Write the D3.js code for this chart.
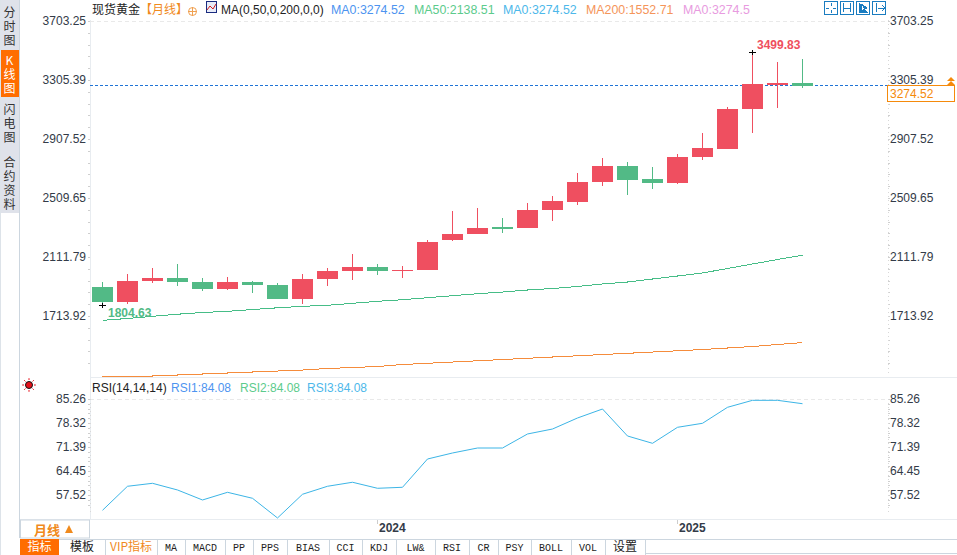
<!DOCTYPE html>
<html><head><meta charset="utf-8">
<style>
html,body{margin:0;padding:0;background:#fff;overflow:hidden}
svg{display:block}
text{font-family:"Liberation Sans",Arial,sans-serif;font-size:12px;font-kerning:none}
.cjk{font-family:"Noto Sans CJK SC",sans-serif}
.mono{font-family:"Liberation Mono",monospace;font-size:10px}
.vert{font-family:"Noto Sans CJK SC",sans-serif;writing-mode:vertical-rl;text-orientation:upright;letter-spacing:2px;font-size:12px}
</style>
<script src="https://cdn.jsdelivr.net/npm/d3@7"></script>
</head><body>
<svg id="c" width="957" height="555"></svg>
<script>
const months=["2023-02","2023-03","2023-04","2023-05","2023-06","2023-07","2023-08","2023-09","2023-10","2023-11","2023-12","2024-01","2024-02","2024-03","2024-04","2024-05","2024-06","2024-07","2024-08","2024-09","2024-10","2024-11","2024-12","2025-01","2025-02","2025-03","2025-04","2025-05","2025-06"];
const opens=[1925.2,1824.7,1965.4,1985.5,1958.7,1911.8,1958.7,1938.6,1844.8,1978.8,2032.4,2059.2,2032.4,2039.1,2240.1,2280.3,2327.2,2320.5,2441.1,2494.7,2628.7,2736.0,2648.8,2622.0,2796.2,2849.9,3117.9,3278.7,3292.1];
const highs=[1958.7,2012.3,2052.5,2079.3,1985.5,1992.2,1965.4,1952.0,2012.3,2052.5,2146.3,2079.3,2065.9,2240.1,2434.4,2454.5,2387.5,2488.0,2534.9,2689.1,2789.6,2762.8,2729.2,2816.4,2957.1,3131.3,3499.83,3432.8,3452.9];
const lows=[1804.63,1811.3,1952.0,1931.9,1898.4,1905.1,1885.0,1844.8,1811.3,1931.9,1972.1,2005.6,1985.5,2039.1,2233.4,2280.3,2287.0,2320.5,2367.4,2474.6,2602.0,2541.6,2581.8,2615.3,2776.2,2849.9,2957.1,3124.6,3258.6];
const closes=[1824.7,1965.4,1985.5,1958.7,1911.8,1958.7,1938.6,1844.8,1978.8,2032.4,2059.2,2032.4,2039.1,2226.7,2280.3,2320.5,2313.8,2441.1,2501.4,2628.7,2736.0,2642.2,2622.0,2796.2,2856.6,3117.9,3285.4,3292.1,3274.52];
const ma50=[1702.1,1714.1,1728.8,1742.9,1754.3,1762.3,1774.4,1785.8,1795.8,1802.6,1816.0,1829.4,1840.1,1853.5,1866.9,1880.3,1891.6,1905.1,1915.2,1928.6,1945.4,1958.7,1978.8,1998.9,2019.1,2049.1,2079.3,2109.4,2138.51];
const ma200=[1323.5,1325.5,1328.8,1335.5,1342.2,1348.9,1355.6,1362.3,1369.0,1379.0,1385.8,1392.5,1405.9,1414.0,1422.6,1430.7,1439.4,1447.4,1456.2,1464.2,1472.9,1480.9,1489.6,1497.7,1506.4,1516.5,1526.5,1539.9,1552.71];
const rsi=[53.10,60.04,60.90,58.97,56.08,58.30,56.57,50.88,57.73,60.04,61.20,59.46,59.75,67.92,69.66,71.10,71.10,75.15,76.59,79.77,82.37,74.57,72.46,77.08,78.24,82.86,84.88,84.88,83.9];
const priceTicks=[3703.25,3305.39,2907.52,2509.65,2111.79,1713.92];
const rsiTicks=[85.26,78.32,71.39,64.45,57.52];
const yearTicks=["2024-01","2025-01"];
const lastPrice=3274.52, topPrice=3499.83, lowPrice=1804.63;
const sideTabs=["分时图","K线图","闪电图","合约资料"];
const bottomTabs=["指标","模板","VIP指标","MA","MACD","PP","PPS","BIAS","CCI","KDJ","LW&","RSI","CR","PSY","BOLL","VOL","设置"];
const legendMain=[["现货黄金","#222"],["【月线】","#f08a1d"],["MA(0,50,0,200,0,0)","#222"],["MA0:3274.52","#4d94f0"],["MA50:2138.51","#5ccb8c"],["MA0:3274.52","#4db8ea"],["MA200:1552.71","#f5955a"],["MA0:3274.5","#e89be0"]];
const legendRsi=[["RSI(14,14,14)","#222"],["RSI1:84.08","#4d94f0"],["RSI2:84.08","#5ccb8c"],["RSI3:84.08","#4db8ea"]];

const RED="#ef4f60",GREEN="#52ba86",LINE="#e8ecf0",TXT="#333b48",BORDER="#ccd6df",ORANGE="#ff6d00";
const svg=d3.select("#c");
const x=d3.scalePoint().domain(months).range([102.5,802.5]);
const y=d3.scaleLinear().domain([lowPrice,topPrice]).range([305,52]);
const yAxisS=d3.scaleLinear().domain([priceTicks[5],priceTicks[0]]).range([316,21]);
const yR=d3.scaleLinear().domain([rsiTicks[4],rsiTicks[0]]).range([495,399]);
const fmt=d3.format(".2f");

const g=svg.append("g");
const hl=(x1,x2,yy,c=LINE,extra)=>{const l=g.append("line").attr("x1",x1).attr("x2",x2).attr("y1",yy).attr("y2",yy).attr("stroke",c).attr("shape-rendering","crispEdges");if(extra)l.attr("stroke-dasharray",extra);return l;};
const vl=(xx,y1,y2,c=LINE,extra)=>{const l=g.append("line").attr("x1",xx).attr("x2",xx).attr("y1",y1).attr("y2",y2).attr("stroke",c).attr("shape-rendering","crispEdges");if(extra)l.attr("stroke-dasharray",extra);return l;};
g.append("rect").attr("x",0).attr("y",0).attr("width",19).attr("height",213).attr("fill","#dfe2ea");
g.append("rect").attr("x",0).attr("y",50).attr("width",19).attr("height",47).attr("fill",ORANGE);
vl(19.5,0,538,BORDER);vl(0.5,0,555,"#dde3e9");
hl(90,957,377.5);hl(20,957,519.5);
vl(90.5,20,377,LINE);vl(90.5,377,519,LINE);

const sideY=[6,54,103,156];
sideTabs.forEach((t,i)=>{
 g.append("text").attr("class","vert").attr("x",9.5).attr("y",sideY[i]).attr("fill",i==1?"#fff":"#333").text(t);
});

hl(90,888,21.5,"#e9e9e9","4 3");
hl(90,888,399.5,"#e9e9e9","4 3");
hl(90,888,Math.floor(y(lastPrice))+.5,"#1f74d6","3 2");

function axis(gen,ticks,scale,xx,anchor){
 const a=svg.append("g").attr("transform",`translate(${xx},0)`).call(gen(scale).tickValues(ticks).tickFormat(fmt).tickSize(0).tickPadding(0));
 a.select(".domain").remove();
 a.selectAll("text").attr("fill",TXT).style("font-size","12px").style("font-family",'"Liberation Sans",sans-serif').attr("text-anchor",anchor);
 return a;
}
axis(d3.axisLeft,priceTicks,yAxisS,86,"end");
axis(d3.axisRight,priceTicks,yAxisS,890,"start");
axis(d3.axisLeft,rsiTicks,yR,86,"end");
axis(d3.axisRight,rsiTicks,yR,890,"start");
function minor(scaleStart,step,count){
 d3.range(count).forEach(i=>{const yy=Math.round(scaleStart+i*step)+.5;
  hl(88,90,yy,"#cfcfcf");hl(888,890,yy,"#cfcfcf");});
}
minor(21,11.8,30);
minor(399,4.8,23);
vl(888.5,20,376,"#d8d8d8","1 3");vl(888.5,399,515,"#d8d8d8","1 3");vl(90.5,399,515,"#d8d8d8","1 3");

const lineP=d3.line().x((d,i)=>x(months[i])).y(d=>y(d));
svg.append("path").datum(ma50).attr("d",lineP).attr("fill","none").attr("stroke","#46bd87").attr("stroke-width",1).attr("shape-rendering","crispEdges");
svg.append("path").datum(ma200).attr("d",lineP).attr("fill","none").attr("stroke","#f58c3c").attr("stroke-width",1).attr("shape-rendering","crispEdges");

const c=svg.append("g").selectAll("g").data(months).join("g");
const col=(d,i)=>closes[i]>=opens[i]?RED:GREEN;
c.append("line").attr("x1",d=>Math.floor(x(d))+.5).attr("x2",d=>Math.floor(x(d))+.5)
 .attr("y1",(d,i)=>Math.round(y(highs[i]))).attr("y2",(d,i)=>Math.round(y(lows[i])))
 .attr("stroke",col).attr("shape-rendering","crispEdges");
c.append("rect").attr("x",d=>Math.floor(x(d))-10).attr("width",21)
 .attr("y",(d,i)=>Math.round(y(Math.max(opens[i],closes[i]))))
 .attr("height",(d,i)=>Math.max(1,Math.round(y(Math.min(opens[i],closes[i])))-Math.round(y(Math.max(opens[i],closes[i])))))
 .attr("fill",col).attr("shape-rendering","crispEdges");

const iHi=highs.indexOf(topPrice), iLo=lows.indexOf(lowPrice);
[[iHi,topPrice],[iLo,lowPrice]].forEach(([i,v])=>{const cx=Math.floor(x(months[i]));const cy=Math.round(y(v))+.5;
 svg.append("path").attr("d",`M${cx-3},${cy}H${cx+4}M${cx+.5},${cy-3}V${cy+2.5}`).attr("stroke","#000").attr("fill","none").attr("shape-rendering","crispEdges");});
svg.append("text").attr("x",x(months[iHi])+4.5).attr("y",y(topPrice)-3).attr("fill",RED).attr("font-weight",700).text(fmt(topPrice));
svg.append("text").attr("x",x(months[iLo])+5.5).attr("y",y(lowPrice)+12).attr("fill",GREEN).attr("font-weight",700).text(fmt(lowPrice));

svg.append("rect").attr("x",887.5).attr("y",85.5).attr("width",67).attr("height",16).attr("fill","#fff").attr("stroke","#f58a0b");
svg.append("text").attr("x",890).attr("y",98).attr("fill","#f58a0b").text(fmt(lastPrice));
svg.append("path").attr("d","M951,77l4,4h-8zM951,81l4,4h-8z").attr("fill","#f58a0b");

const lineR=d3.line().x((d,i)=>x(months[i])).y(d=>yR(d));
svg.append("path").datum(rsi).attr("d",lineR).attr("fill","none").attr("stroke","#3cb5e6").attr("stroke-width",1);

const mainX=[92,140,221,331,414,503,586,683];
legendMain.forEach(([t,cl],i)=>svg.append("text").attr("class",/[\u4e00-\u9fff]/.test(t)?"cjk":null).attr("x",mainX[i]).attr("y",14).attr("fill",cl).style("font-size",i>2?"12.4px":"12px").text(t));
svg.append("circle").attr("cx",192.5).attr("cy",11.5).attr("r",4).attr("fill","none").attr("stroke","#f0a050");
svg.append("path").attr("d","M188,11.5h9M192.5,7v9").attr("stroke","#f0a050").attr("fill","none");
svg.append("rect").attr("x",206.5).attr("y",1.5).attr("width",10).attr("height",11).attr("fill","#e8ecf8").attr("stroke","#1a2c80");
svg.append("path").attr("d","M207,10l3,-4l3,3l3,-5").attr("stroke","#d02020").attr("fill","none");
const rsiX=[92,171,240,307];
legendRsi.forEach(([t,cl],i)=>svg.append("text").attr("x",rsiX[i]).attr("y",392).attr("fill",cl).text(t));
const sun=svg.append("g").attr("transform","translate(29,385)");
sun.append("circle").attr("r",3.5).attr("fill","#e8101a").attr("stroke","#111");
d3.range(8).forEach(i=>{const a=i*Math.PI/4;sun.append("line").attr("x1",5*Math.cos(a)).attr("y1",5*Math.sin(a)).attr("x2",6.8*Math.cos(a)).attr("y2",6.8*Math.sin(a)).attr("stroke","#e8101a");});

[824,840,856,872].forEach((bx,i)=>{
 svg.append("rect").attr("x",bx+.5).attr("y",1.5).attr("width",13).attr("height",13).attr("fill","#fff").attr("stroke","#1a7cc0");
 const p=["M"+(bx+2)+",8h3M"+(bx+9)+",8h3M"+(bx+7)+",3v3M"+(bx+7)+",10v3",
  "M"+(bx+3.5)+",3v9M"+(bx+10.5)+",3v9M"+(bx+4)+",8h6",
  "M"+(bx+3.5)+",3v9h8M"+(bx+5)+",4l6,4l-6,3z",
  "M"+(bx+4.5)+",3v9M"+(bx+6)+",8h6M"+(bx+10)+",5l3,3l-3,3"][i];
 svg.append("path").attr("d",p).attr("stroke","#1a7cc0").attr("fill",i==2?"#1a7cc0":"none").attr("shape-rendering","crispEdges");
});

yearTicks.forEach(m=>{const px=Math.floor(x(m))+.5;
 vl(px,520,524,"#ccc");
 svg.append("text").attr("x",px+1.5).attr("y",532).attr("fill",TXT).attr("font-weight",700).text(m.slice(0,4));});

svg.append("rect").attr("x",20.5).attr("y",520).attr("width",69).attr("height",18).attr("fill","#fff").attr("stroke",BORDER);
svg.append("text").attr("class","cjk").attr("x",34).attr("y",535).attr("fill","#f08a1d").attr("font-weight",700).style("font-size","13px").text("月线");
svg.append("path").attr("d","M69,525l4,8h-8z").attr("fill","#f08a1d");

const tabEdges=[20,59,105,157,185,225,253,287,329,362,396,435,469,498,531,571,605,645];
hl(20,957,539.5,BORDER);hl(645,957,553.5,BORDER);vl(645.5,539,554,BORDER);vl(20.5,539,555,BORDER);
bottomTabs.forEach((t,i)=>{const a=tabEdges[i],b=tabEdges[i+1];
 if(i==0)svg.append("rect").attr("x",a).attr("y",539).attr("width",b-a).attr("height",16).attr("fill",ORANGE);
 else vl(b+.5,539,555,BORDER);
 const isCjk=/[\u4e00-\u9fff]/.test(t);
 svg.append("text").attr("class",isCjk?"cjk":"mono").attr("x",(a+b)/2).attr("y",551).attr("text-anchor","middle")
  .attr("fill",i==0?"#fff":i==2?"#f08a1d":"#222").style("font-size",isCjk?"12px":"10px").text(t);});
</script>
</body></html>
